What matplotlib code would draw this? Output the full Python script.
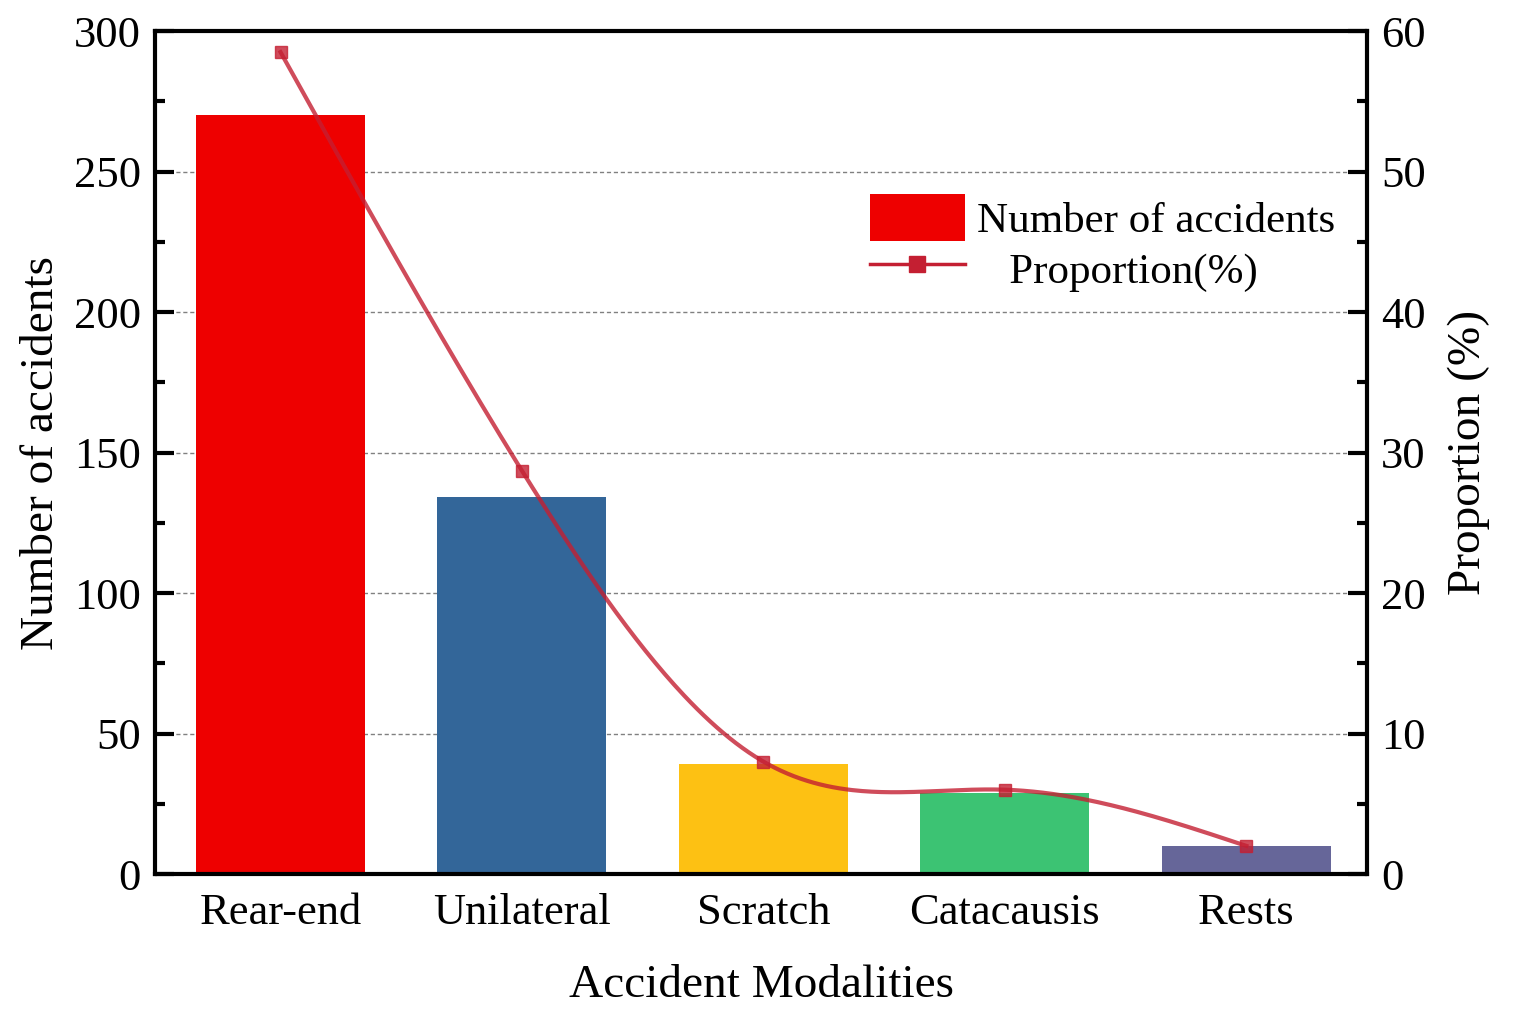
import matplotlib
matplotlib.use('Agg')

import matplotlib.pyplot as plt
import numpy as np
from matplotlib.patches import Patch
from matplotlib.lines import Line2D

categories = ["Rear-end", "Unilateral", "Scratch", "Catacausis", "Rests"]
accidents = [270, 134, 39, 29, 10]
proportion = [58.5, 28.7, 8.0, 6.0, 2.0]
bar_colors = ["#EE0000", "#336699", "#FDC113", "#3CC373", "#666699"]


def natural_spline(x, y, n=300):
    """Natural cubic spline through the points, only for drawing a smooth line."""
    x = np.asarray(x, float)
    y = np.asarray(y, float)
    k = len(x)
    h = np.diff(x)
    A = np.zeros((k, k))
    b = np.zeros(k)
    A[0, 0] = 1
    A[-1, -1] = 1
    for i in range(1, k - 1):
        A[i, i - 1] = h[i - 1]
        A[i, i] = 2 * (h[i - 1] + h[i])
        A[i, i + 1] = h[i]
        b[i] = 3 * ((y[i + 1] - y[i]) / h[i] - (y[i] - y[i - 1]) / h[i - 1])
    c = np.linalg.solve(A, b)
    xs = np.linspace(x[0], x[-1], n)
    ys = np.empty_like(xs)
    for j, t in enumerate(xs):
        i = min(np.searchsorted(x, t, side="right") - 1, k - 2)
        d = (c[i + 1] - c[i]) / (3 * h[i])
        bb = (y[i + 1] - y[i]) / h[i] - h[i] * (2 * c[i] + c[i + 1]) / 3
        dx = t - x[i]
        ys[j] = y[i] + bb * dx + c[i] * dx ** 2 + d * dx ** 3
    return xs, ys


plt.rcParams['font.family'] = ['Liberation Serif', 'DejaVu Serif']

fig = plt.figure(figsize=(15.19, 10.17), dpi=100)
ax = fig.add_axes([0.102, 0.1406, 0.798, 0.8289])
x = np.arange(len(categories))

ax.bar(x, accidents, width=0.7, color=bar_colors, zorder=2)
ax.set_xlim(-0.52, 4.5)
ax.set_ylim(0, 300)
ax.set_yticks(np.arange(0, 301, 50))
ax.set_yticks(np.arange(25, 300, 50), minor=True)
ax.set_xticks(x)
ax.set_xticklabels(categories)
ax.yaxis.grid(True, which="major", linestyle=(0, (3, 2)), color="#808080", linewidth=1.0, zorder=0)
ax.set_axisbelow(True)
ax.tick_params(axis="y", which="major", direction="in", length=14, width=3, labelsize=32, pad=10)
ax.tick_params(axis="y", which="minor", direction="in", length=7, width=3)
ax.tick_params(axis="x", length=0, labelsize=32, pad=14)
for s in ax.spines.values():
    s.set_linewidth(3)
ax.set_ylabel("Number of accidents", fontsize=34, labelpad=8)
ax.set_xlabel("Accident Modalities", fontsize=34, labelpad=22)

ax2 = ax.twinx()
ax2.set_ylim(0, 60)
ax2.set_yticks(np.arange(0, 61, 10))
ax2.set_yticks(np.arange(5, 60, 10), minor=True)
ax2.tick_params(axis="y", which="major", direction="in", length=14, width=3, labelsize=32, pad=10)
ax2.tick_params(axis="y", which="minor", direction="in", length=7, width=3)
ax2.set_ylabel("Proportion (%)", fontsize=34, labelpad=16)

line_color = "#C41F32"
xs, ys = natural_spline(x, proportion)
ax2.plot(xs, ys, color=line_color, alpha=0.8, linewidth=3, zorder=3)
ax2.plot(x, proportion, linestyle="none", marker="s", markersize=9, color=line_color, alpha=0.8, zorder=4)

handles = [
    Patch(facecolor=bar_colors[0], edgecolor="none"),
    Line2D([], [], color=line_color, linewidth=2.5, marker="s", markersize=12),
]
fig.legend(handles, ["Number of accidents", "   Proportion(%)"], loc="upper left",
           bbox_to_anchor=(0.5726, 0.809), frameon=False, fontsize=31,
           borderpad=0, borderaxespad=0,
           handlelength=2.2, handleheight=1.3, handletextpad=0.3, labelspacing=0.08)

fig.savefig("out.png", dpi=100)
plt.close(fig)
